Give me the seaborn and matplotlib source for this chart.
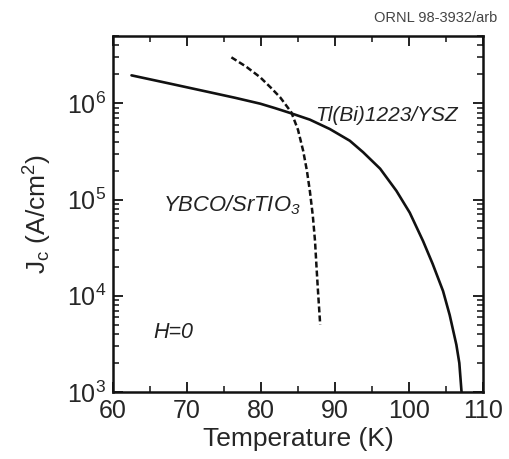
import matplotlib
matplotlib.use("Agg")
import matplotlib.pyplot as plt
import matplotlib.ticker as mticker
import seaborn as sns
import pandas as pd

# Critical current density versus temperature, zero applied field
tl_temp = [62.5, 67.7, 73.1, 76.5, 79.9, 81.9, 84.0, 86.6, 89.3, 92.0, 93.8,
           96.1, 98.3, 100.1, 101.9, 103.2, 104.6, 105.5, 106.4, 106.8, 107.1]
tl_jc = [1.95e6, 1.6e6, 1.30e6, 1.14e6, 9.9e5, 8.9e5, 7.9e5, 6.76e5, 5.4e5, 4.08e5, 3.1e5,
         2.09e5, 1.23e5, 7.3e4, 3.7e4, 2.14e4, 1.12e4, 6.3e3, 3.1e3, 2.0e3, 1.0e3]

yb_temp = [76.0, 78.0, 79.9, 81.3, 82.6, 84.1, 85.0, 85.7, 86.2, 86.6, 87.0, 87.3, 87.5, 87.7, 88.0]
yb_jc = [3.0e6, 2.4e6, 1.86e6, 1.46e6, 1.15e6, 8.05e5, 5.3e5, 3.2e5, 2.0e5, 1.23e5, 6.8e4, 3.7e4, 2.0e4, 1.12e4, 5.0e3]

x_ticks = [60, 70, 80, 90, 100, 110]
y_ticks = [1e3, 1e4, 1e5, 1e6]

tl_df = pd.DataFrame({"T": tl_temp, "Jc": tl_jc})
yb_df = pd.DataFrame({"T": yb_temp, "Jc": yb_jc})

sns.set_style("ticks")
plt.rcParams["font.family"] = ["Liberation Sans", "DejaVu Sans"]
plt.rcParams["mathtext.fontset"] = "custom"
plt.rcParams["mathtext.rm"] = "Liberation Sans"
plt.rcParams["mathtext.it"] = "Liberation Sans:italic"

fig = plt.figure(figsize=(5.09, 4.59), dpi=100)
ax = fig.add_axes([113 / 509, 1 - 392 / 459, 370 / 509, 356 / 459])

sns.lineplot(data=tl_df, x="T", y="Jc", ax=ax, color="#111111", lw=1.9,
             sort=False, estimator=None)
sns.lineplot(data=yb_df, x="T", y="Jc", ax=ax, color="#111111", lw=1.8,
             sort=False, estimator=None, linestyle=(0, (2.4, 1.2)))

ax.set_yscale("log")
ax.set_xlim(60, 110)
ax.set_ylim(1e3, 5e6)
ax.set_xticks(x_ticks)
ax.xaxis.set_minor_locator(mticker.MultipleLocator(5))
ax.set_yticks(y_ticks)
ax.yaxis.set_minor_locator(mticker.LogLocator(base=10, subs=range(2, 10)))
ax.yaxis.set_minor_formatter(mticker.NullFormatter())

ax.tick_params(which="both", direction="in", top=True, right=True,
               color="#111111")
ax.tick_params(which="major", length=7, width=1.3, labelsize=18)
ax.tick_params(axis="x", which="major", pad=5)
ax.tick_params(axis="y", which="major", pad=5)
ax.tick_params(which="minor", length=4, width=1.1)
for s in ax.spines.values():
    s.set_linewidth(1.8)
    s.set_color("#111111")

ax.set_xlabel("Temperature (K)", fontsize=19, labelpad=3)
ax.set_ylabel(r"J$_\mathregular{c}$ (A/cm$^\mathregular{2}$)", fontsize=19, labelpad=9)

ax.text(87.3, 6.6e5, "Tl(Bi)1223/YSZ", fontsize=15, style="italic",
        ha="left", va="baseline", color="#222222")
ax.text(66.8, 7.6e4, r"YBCO/SrTIO$_\mathregular{3}$", fontsize=15.8, style="italic",
        ha="left", va="baseline", color="#222222")
ax.text(65.4, 3.6e3, "H=0", fontsize=15.5, style="italic",
        ha="left", va="baseline", color="#222222")

fig.text(497 / 509, 1 - 22 / 459, "ORNL 98-3932/arb", fontsize=10.5,
         ha="right", va="baseline", color="#444444")

fig.savefig("out.png", dpi=100)
